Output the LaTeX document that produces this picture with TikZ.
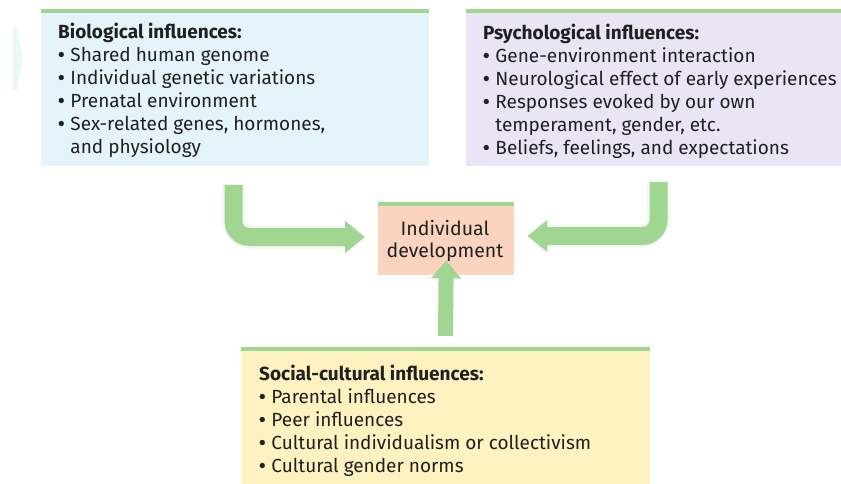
\documentclass[tikz,border=0pt]{standalone}
\usepackage{fontspec}
\setmainfont{Fira Sans}
\usetikzlibrary{arrows.meta}
\definecolor{bioblue}{RGB}{229,244,251}
\definecolor{psylav}{RGB}{233,229,245}
\definecolor{devsal}{RGB}{251,212,192}
\definecolor{socyel}{RGB}{253,242,192}
\definecolor{lgreen}{RGB}{160,214,145}
\definecolor{txtgray}{RGB}{32,32,32}
\definecolor{chev}{RGB}{236,248,246}
\tikzset{
  panel/.style={draw=none, inner sep=0pt, anchor=north west},
  topline/.style={draw=lgreen, line width=3.5pt},
  panetext/.style={anchor=base west, inner sep=0pt, text=txtgray,
    font=\fontsize{19}{23}\selectfont},
  bigarrow/.style={draw=lgreen, line width=18pt, rounded corners=16pt,
    -{Triangle[length=20pt,width=31pt]}},
  halo/.style={draw=lgreen!40, line width=23pt, rounded corners=18pt, opacity=0.35},
}
\newcommand{\bul}{\textbf{\textbullet}\hspace{0.3em}}
\newcommand{\bulsp}{\phantom{\textbf{\textbullet}\hspace{0.3em}}}
\begin{document}
\begin{tikzpicture}[x=1pt,y=-1pt]
\useasboundingbox (0,0) rectangle (841,484);
% faint chevron at left
\fill[chev] (13,27) -- (17,27) -- (23,58) -- (17,90) -- (13,90) -- cycle;

% panels
\node[panel, fill=bioblue, minimum width=388pt, minimum height=155pt] (bio) at (41,11) {};
\node[panel, fill=psylav, minimum width=375pt, minimum height=155pt] (psy) at (466,11) {};
\node[panel, fill=devsal, minimum width=136pt, minimum height=71pt] (dev) at (378,204) {};
\node[panel, fill=socyel, minimum width=409pt, minimum height=135pt] (soc) at (241,349) {};
\draw[topline] (bio.north west) -- (bio.north east);
\draw[topline] (psy.north west) -- (psy.north east);
\draw[topline] (dev.north west) -- (dev.north east);
\draw[topline] (soc.north west) -- (soc.north east);

% texts
\node[panetext] (biotxt) at (58,39) {\begin{tabular}[t]{@{}l@{}}\textbf{Biological influences:}\\
\bul Shared human genome\\
\bul Individual genetic variations\\
\bul Prenatal environment\\
\bul Sex-related genes, hormones,\\
\bulsp and physiology\end{tabular}};
\node[panetext] (psytxt) at (483,40) {\begin{tabular}[t]{@{}l@{}}\textbf{Psychological influences:}\\
\bul Gene-environment interaction\\
\bul Neurological effect of early experiences\\
\bul Responses evoked by our own\\
\bulsp temperament, gender, etc.\\
\bul Beliefs, feelings, and expectations\end{tabular}};
\node[panetext] (soctxt) at (259,380) {\begin{tabular}[t]{@{}l@{}}\textbf{Social-cultural influences:}\\
\bul Parental influences\\
\bul Peer influences\\
\bul Cultural individualism or collectivism\\
\bul Cultural gender norms\end{tabular}};
\node[anchor=base, inner sep=0pt, text=txtgray,
  font=\fontsize{19.5}{22}\selectfont] (devtxt) at (445,235) {\begin{tabular}[t]{@{}c@{}}Individual\\development\end{tabular}};

% arrows
\coordinate (bioOut) at (233.5,185);
\coordinate (psyOut) at (658.5,182);
\coordinate (socOut) at (445.5,336);
\draw[halo] (bioOut) |- ([xshift=-22pt]dev.west |- 0,237);
\draw[halo] (psyOut) |- ([xshift=22pt]dev.east |- 0,236);
\draw[bigarrow] (bioOut) |- ([xshift=-13pt]dev.west |- 0,237);
\draw[bigarrow] (psyOut) |- ([xshift=13pt]dev.east |- 0,236);
\draw[draw=lgreen, line width=15pt, -{Triangle[length=18pt,width=29pt]}]
  (socOut) -- ([yshift=15pt]dev.south);
\end{tikzpicture}
\end{document}
